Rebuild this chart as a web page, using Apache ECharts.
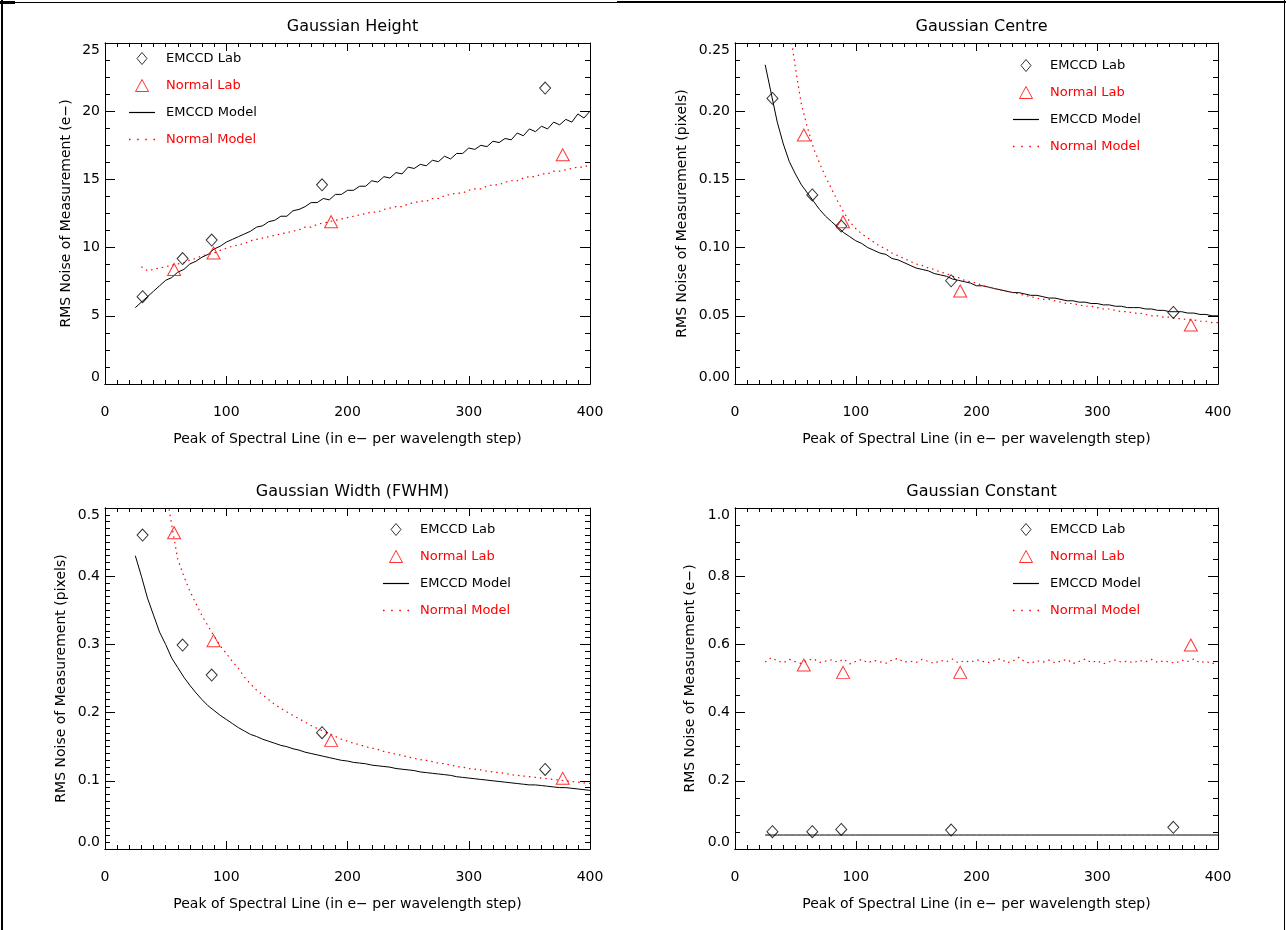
<!DOCTYPE html>
<html>
<head>
<meta charset="utf-8">
<script src="https://cdn.jsdelivr.net/npm/echarts@6/dist/echarts.min.js"></script>
<style>
html,body{margin:0;padding:0;background:#fff;}
#chart{width:1286px;height:930px;}
</style>
</head>
<body>
<div id="chart"></div>
<script>
// ---------------- DATA ----------------
const panelTitles = ['Gaussian Height', 'Gaussian Centre', 'Gaussian Width (FWHM)', 'Gaussian Constant'];
const yTitles = ['RMS Noise of Measurement (e\u2212)', 'RMS Noise of Measurement (pixels)', 'RMS Noise of Measurement (pixels)', 'RMS Noise of Measurement (e\u2212)'];
const xTitle = 'Peak of Spectral Line (in e\u2212 per wavelength step)';
const seriesNames = ['EMCCD Lab', 'Normal Lab', 'EMCCD Model', 'Normal Model'];

// lab measurement peaks (x)
const emccdLabX = [31, 64, 88, 179, 363];
const normalLabX = [57, 89.5, 186.5, 377.5];

// lab measurements (y) per panel
const heightEmccdLab = [6.4, 9.2, 10.55, 14.6, 21.7];
const heightNormalLab = [8.4, 9.6, 11.9, 16.8];
const centreEmccdLab = [0.2094, 0.1386, 0.1158, 0.0757, 0.0525];
const centreNormalLab = [0.1825, 0.119, 0.0682, 0.0432];
const widthEmccdLab = [0.4604, 0.299, 0.255, 0.1706, 0.1166];
const widthNormalLab = [0.4638, 0.3055, 0.1593, 0.1036];
const constEmccdLab = [0.0508, 0.0508, 0.0575, 0.0557, 0.0635];
const constNormalLab = [0.5396, 0.518, 0.518, 0.598];

// model curves, sampled peaks (x)
const modelX = [25,30,35,40,45,50,55,60,65,70,75,80,85,90,95,100,105,110,115,120,125,130,135,140,145,150,155,160,165,170,175,180,185,190,195,200,205,210,215,220,225,230,235,240,245,250,255,260,265,270,275,280,285,290,295,300,305,310,315,320,325,330,335,340,345,350,355,360,365,370,375,380,385,390,395,400];

const heightEmccdModel = [5.6,6.0,6.4,6.8,7.2,7.6,7.8,8.2,8.4,8.8,9.0,9.3,9.5,9.9,10.1,10.4,10.6,10.8,11.0,11.2,11.5,11.6,11.9,12.0,12.3,12.3,12.7,12.8,13.0,13.3,13.3,13.6,13.5,13.9,13.9,14.2,14.2,14.5,14.5,14.9,14.8,15.2,15.1,15.5,15.4,15.9,15.8,16.1,16.0,16.4,16.3,16.7,16.5,16.9,16.9,17.3,17.2,17.5,17.4,17.8,17.7,18.0,17.9,18.4,18.2,18.7,18.5,18.9,18.7,19.2,19.0,19.4,19.2,19.8,19.5,20.0];
const heightNormalModel = [null,8.6,8.3,8.4,8.5,8.6,8.7,8.8,8.9,9.1,9.2,9.4,9.5,9.6,9.8,9.95,10.1,10.2,10.3,10.5,10.6,10.7,10.8,10.9,11.0,11.1,11.2,11.3,11.5,11.5,11.7,11.8,11.9,12.0,12.1,12.2,12.3,12.4,12.5,12.6,12.6,12.8,12.9,13.0,13.0,13.2,13.3,13.4,13.4,13.6,13.6,13.8,13.9,14.0,14.0,14.2,14.3,14.3,14.5,14.6,14.6,14.8,14.9,14.9,15.1,15.2,15.2,15.4,15.4,15.6,15.6,15.7,15.8,15.9,15.9,16.1];

const centreEmccdModel = [0.234,0.213,0.192,0.176,0.163,0.154,0.146,0.140,0.134,0.128,0.123,0.119,0.115,0.111,0.108,0.105,0.103,0.100,0.098,0.096,0.095,0.092,0.091,0.089,0.087,0.085,0.084,0.083,0.081,0.080,0.079,0.077,0.076,0.075,0.074,0.072,0.072,0.071,0.070,0.069,0.068,0.067,0.067,0.066,0.065,0.065,0.064,0.063,0.063,0.062,0.061,0.061,0.060,0.060,0.059,0.059,0.058,0.058,0.057,0.057,0.056,0.056,0.056,0.055,0.055,0.054,0.054,0.053,0.053,0.053,0.052,0.052,0.051,0.051,0.050,0.050];
const centreNormalModel = [null,null,null,null,0.262,0.232,0.205,0.188,0.173,0.162,0.152,0.143,0.134,0.126,0.119,0.114,0.110,0.107,0.104,0.101,0.099,0.096,0.094,0.092,0.090,0.088,0.087,0.085,0.084,0.082,0.081,0.079,0.078,0.076,0.075,0.074,0.072,0.071,0.070,0.069,0.068,0.067,0.066,0.065,0.064,0.063,0.062,0.062,0.061,0.060,0.059,0.059,0.058,0.057,0.057,0.056,0.055,0.055,0.054,0.053,0.053,0.052,0.052,0.051,0.050,0.050,0.049,0.049,0.048,0.048,0.047,0.047,0.046,0.046,0.045,0.045];

const widthEmccdModel = [0.430,0.400,0.368,0.343,0.318,0.300,0.280,0.266,0.252,0.240,0.229,0.219,0.210,0.203,0.196,0.190,0.184,0.178,0.173,0.168,0.165,0.161,0.158,0.155,0.152,0.150,0.147,0.145,0.142,0.140,0.138,0.136,0.134,0.132,0.130,0.129,0.127,0.126,0.125,0.123,0.122,0.121,0.120,0.118,0.117,0.116,0.115,0.113,0.112,0.111,0.110,0.109,0.108,0.106,0.105,0.104,0.103,0.102,0.101,0.100,0.099,0.098,0.097,0.096,0.095,0.094,0.094,0.093,0.092,0.091,0.090,0.090,0.089,0.088,0.087,0.086];
const widthNormalModel = [null,null,null,null,null,0.530,0.475,0.425,0.400,0.378,0.360,0.342,0.327,0.312,0.298,0.287,0.275,0.265,0.252,0.242,0.233,0.226,0.219,0.212,0.206,0.201,0.196,0.191,0.186,0.181,0.177,0.173,0.169,0.165,0.161,0.158,0.155,0.153,0.150,0.148,0.146,0.143,0.141,0.139,0.137,0.135,0.133,0.131,0.130,0.128,0.126,0.125,0.123,0.121,0.120,0.118,0.117,0.116,0.114,0.113,0.112,0.111,0.109,0.108,0.107,0.106,0.105,0.104,0.103,0.102,0.101,0.100,0.099,0.098,0.097,0.096];

const constEmccdModel = [0.041,0.041,0.041,0.041,0.041,0.041,0.041,0.041,0.041,0.041,0.041,0.041,0.041,0.041,0.041,0.041,0.041,0.041,0.041,0.041,0.041,0.041,0.041,0.041,0.041,0.041,0.041,0.041,0.041,0.041,0.041,0.041,0.041,0.041,0.041,0.041,0.041,0.041,0.041,0.041,0.041,0.041,0.041,0.041,0.041,0.041,0.041,0.041,0.041,0.041,0.041,0.041,0.041,0.041,0.041,0.041,0.041,0.041,0.041,0.041,0.041,0.041,0.041,0.041,0.041,0.041,0.041,0.041,0.041,0.041,0.041,0.041,0.041,0.041,0.041,0.041];
const constNormalModel = [0.548,0.561,0.552,0.546,0.556,0.549,0.544,0.553,0.558,0.547,0.551,0.555,0.548,0.557,0.543,0.550,0.556,0.546,0.553,0.549,0.545,0.554,0.559,0.548,0.551,0.547,0.556,0.550,0.544,0.553,0.549,0.557,0.546,0.552,0.548,0.555,0.550,0.547,0.553,0.558,0.546,0.551,0.562,0.549,0.545,0.552,0.548,0.554,0.546,0.551,0.556,0.544,0.550,0.557,0.547,0.552,0.543,0.549,0.554,0.548,0.551,0.546,0.553,0.549,0.556,0.547,0.552,0.548,0.545,0.554,0.550,0.557,0.546,0.551,0.543,0.550];

// axes
const xMin = 0, xMax = 400, xInterval = 100;
const yMins = [0, 0, 0, 0];
const yMaxs = [25, 0.25, 0.5, 1.0];
const yIntervals = [5, 0.05, 0.1, 0.2];
const yMinorSplits = [4, 4, 10, 4];
const yDecimals = [0, 2, 1, 1];

const panelLab = [
  [heightEmccdLab, heightNormalLab],
  [centreEmccdLab, centreNormalLab],
  [widthEmccdLab, widthNormalLab],
  [constEmccdLab, constNormalLab]
];
const panelModel = [
  [heightEmccdModel, heightNormalModel],
  [centreEmccdModel, centreNormalModel],
  [widthEmccdModel, widthNormalModel],
  [constEmccdModel, constNormalModel]
];

// ---------------- LAYOUT / STYLE ----------------
const FONT = 'DejaVu Sans';
const RED = '#ff0000';
const grids = [
  {left: 105, top: 43, width: 485, height: 341},
  {left: 735, top: 43, width: 483, height: 341},
  {left: 105, top: 508, width: 485, height: 341},
  {left: 735, top: 508, width: 483, height: 341}
];
const yNameGaps = [32, 46, 37, 38];
const legendPos = [
  {left: 129, top: 52},
  {left: 1013, top: 59},
  {left: 383, top: 523},
  {left: 1013, top: 523}
];
const ICON_DIAMOND = 'path://M5,0L10,6L5,12L0,6Z';
const ICON_TRIANGLE = 'path://M6.5,0L13,12L0,12Z';
const ICON_SOLID = 'path://M0,0L26,0L26,1.2L0,1.2Z';
const ICON_DOTS = 'path://M0,0h1.5v1.5h-1.5zM8,0h1.5v1.5h-1.5zM16,0h1.5v1.5h-1.5zM24,0h1.5v1.5h-1.5z';

function pair(xs, ys) {
  return xs.map((x, i) => [x, ys[i] === null ? '-' : ys[i]]);
}

const option = {
  animation: false,
  textStyle: {fontFamily: FONT, color: '#000'},
  title: [],
  grid: [],
  xAxis: [],
  yAxis: [],
  legend: [],
  series: [],
  graphic: [
    {type: 'rect', shape: {x: 1, y: 0, width: 2, height: 930}, style: {fill: '#000'}, silent: true},
    {type: 'rect', shape: {x: 0, y: 2, width: 617, height: 1}, style: {fill: '#000'}, silent: true},
    {type: 'rect', shape: {x: 0, y: 1, width: 15, height: 3}, style: {fill: '#000'}, silent: true},
    {type: 'rect', shape: {x: 617, y: 1, width: 669, height: 2}, style: {fill: '#000'}, silent: true},
    {type: 'rect', shape: {x: 1284, y: 0, width: 1, height: 930}, style: {fill: '#000'}, silent: true}
  ]
};

// axis that only draws its line and inside ticks (mirrors IDL box ticks)
function tickOnlyAxis(base, minorSplit, majorLen, minorLen) {
  return Object.assign({
    axisLine: {show: true, onZero: false, lineStyle: {color: '#000', width: 1}},
    axisTick: {show: true, inside: true, length: majorLen, interval: 0, lineStyle: {color: '#000', width: 1}},
    minorTick: {show: true, splitNumber: minorSplit, length: minorLen, lineStyle: {color: '#000', width: 1}},
    axisLabel: {show: false},
    splitLine: {show: false},
    minorSplitLine: {show: false}
  }, base);
}

for (let p = 0; p < 4; p++) {
  const g = grids[p];
  option.grid.push(Object.assign({show: false}, g));
  option.title.push({
    text: panelTitles[p],
    left: g.left + g.width / 2,
    top: g.top - 29,
    textAlign: 'center',
    textStyle: {fontFamily: FONT, fontSize: 16, fontWeight: 'normal', color: '#000'}
  });
  const dec = yDecimals[p];
  const xBase = {type: 'value', gridIndex: p, min: xMin, max: xMax, interval: xInterval};
  const yBase = {type: 'value', gridIndex: p, min: yMins[p], max: yMaxs[p], interval: yIntervals[p]};

  option.xAxis.push(Object.assign({}, xBase, {
    position: 'bottom',
    name: xTitle, nameLocation: 'middle', nameGap: 48,
    nameTextStyle: {fontFamily: FONT, fontSize: 14, color: '#000'},
    axisLine: {show: true, onZero: false, lineStyle: {color: '#000', width: 1}},
    axisTick: {show: false}, minorTick: {show: false},
    axisLabel: {show: true, margin: 21, fontFamily: FONT, fontSize: 14, color: '#000'},
    splitLine: {show: false}
  }));
  option.xAxis.push(tickOnlyAxis(Object.assign({}, xBase, {position: 'bottom'}), 10, 8, 4));
  option.xAxis.push(tickOnlyAxis(Object.assign({}, xBase, {position: 'top'}), 10, 8, 4));

  option.yAxis.push(Object.assign({}, yBase, {
    position: 'left',
    name: yTitles[p], nameLocation: 'middle', nameGap: yNameGaps[p], nameRotate: 90,
    nameTextStyle: {fontFamily: FONT, fontSize: 14, color: '#000'},
    axisLine: {show: true, onZero: false, lineStyle: {color: '#000', width: 1}},
    axisTick: {show: false}, minorTick: {show: false},
    axisLabel: {
      show: true, margin: 5, fontFamily: FONT, fontSize: 14, color: '#000',
      formatter: v => v.toFixed(dec),
      verticalAlignMinLabel: 'bottom', verticalAlignMaxLabel: 'top'
    },
    splitLine: {show: false}
  }));
  option.yAxis.push(tickOnlyAxis(Object.assign({}, yBase, {position: 'left'}), yMinorSplits[p], 10, 5));
  option.yAxis.push(tickOnlyAxis(Object.assign({}, yBase, {position: 'right'}), yMinorSplits[p], 10, 5));

  const xi = 3 * p, yi = 3 * p;
  option.series.push({
    name: seriesNames[2], type: 'line', xAxisIndex: xi, yAxisIndex: yi,
    data: pair(modelX, panelModel[p][0]), symbol: 'none', showSymbol: false, clip: true,
    lineStyle: {color: '#000', width: 1}, itemStyle: {color: '#000'}, z: 3
  });
  option.series.push({
    name: seriesNames[3], type: 'line', xAxisIndex: xi, yAxisIndex: yi,
    data: pair(modelX, panelModel[p][1]), symbol: 'none', showSymbol: false, clip: true, connectNulls: false,
    lineStyle: {color: RED, width: 1.2, type: [1.5, 4]}, itemStyle: {color: RED}, z: 3
  });
  option.series.push({
    name: seriesNames[0], type: 'scatter', xAxisIndex: xi, yAxisIndex: yi,
    data: pair(emccdLabX, panelLab[p][0]), symbol: 'diamond', symbolSize: [11, 12],
    itemStyle: {color: 'rgba(0,0,0,0)', borderColor: '#000', borderWidth: 1}, z: 4
  });
  option.series.push({
    name: seriesNames[1], type: 'scatter', xAxisIndex: xi, yAxisIndex: yi,
    data: pair(normalLabX, panelLab[p][1]), symbol: 'triangle', symbolSize: [13, 12],
    itemStyle: {color: 'rgba(0,0,0,0)', borderColor: RED, borderWidth: 1}, z: 4
  });

  option.legend.push({
    orient: 'vertical', left: legendPos[p].left, top: legendPos[p].top,
    itemWidth: 26, itemHeight: 12, itemGap: 14, padding: 0,
    symbolKeepAspect: true,
    selectedMode: false,
    textStyle: {fontFamily: FONT, fontSize: 13, padding: [0, 0, 0, 6]},
    data: [
      {name: seriesNames[0], icon: ICON_DIAMOND, itemStyle: {color: 'rgba(0,0,0,0)', borderColor: '#000', borderWidth: 1}, textStyle: {color: '#000'}},
      {name: seriesNames[1], icon: ICON_TRIANGLE, itemStyle: {color: 'rgba(0,0,0,0)', borderColor: RED, borderWidth: 1}, textStyle: {color: RED}},
      {name: seriesNames[2], icon: ICON_SOLID, itemStyle: {color: '#000', borderWidth: 0}, textStyle: {color: '#000'}},
      {name: seriesNames[3], icon: ICON_DOTS, itemStyle: {color: RED, borderWidth: 0}, textStyle: {color: RED}}
    ]
  });
}

const chart = echarts.init(document.getElementById('chart'), null, {renderer: 'canvas'});
chart.setOption(option);
</script>
</body>
</html>
